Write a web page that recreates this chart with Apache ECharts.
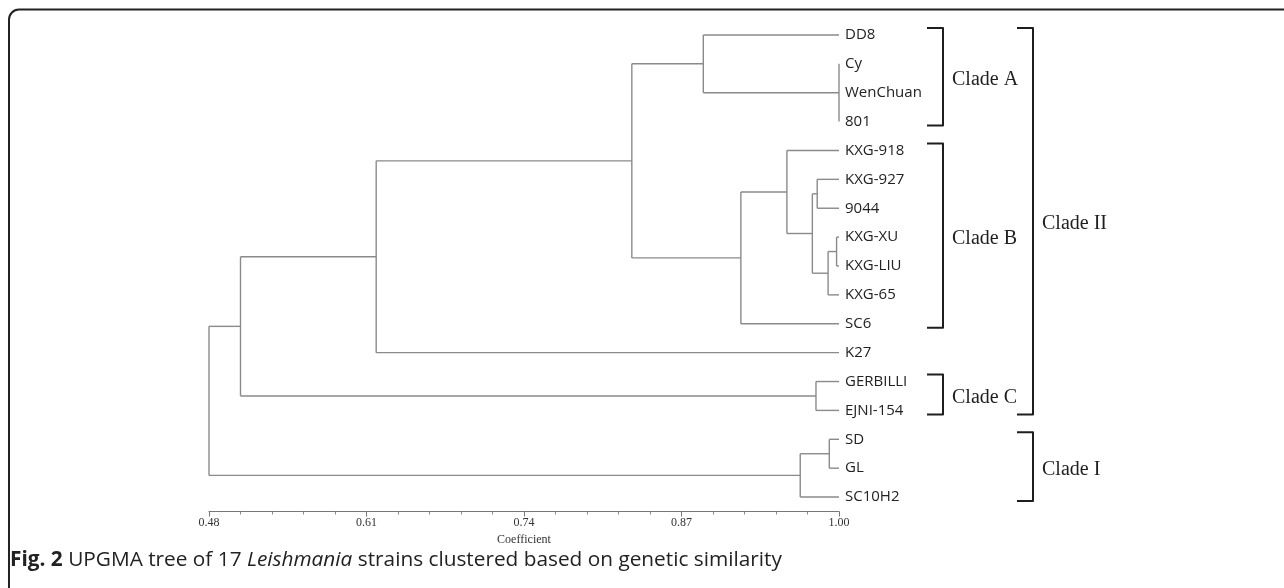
<!DOCTYPE html>
<html>
<head>
<meta charset="utf-8">
<script src="https://cdn.jsdelivr.net/npm/echarts@6/dist/echarts.min.js"></script>
<style>
  html, body { margin: 0; background: #fff; }
  #chart { width: 1284px; height: 588px; }
</style>
</head>
<body>
<div id="chart"></div>
<script>
// leaves, top to bottom
const leaves = ['DD8', 'Cy', 'WenChuan', '801', 'KXG-918', 'KXG-927', '9044', 'KXG-XU',
  'KXG-LIU', 'KXG-65', 'SC6', 'K27', 'GERBILLI', 'EJNI-154', 'SD', 'GL', 'SC10H2'];

// UPGMA merges: child ids are leaf indices (0..16) or 17 + merge index
const mergeChildren = [
  [1, 2, 3],   // 17 Cy / WenChuan / 801
  [0, 17],     // 18 clade A
  [7, 8],      // 19 XU / LIU
  [19, 9],     // 20 + KXG-65
  [5, 6],      // 21 927 / 9044
  [21, 20],    // 22
  [4, 22],     // 23 + KXG-918
  [23, 10],    // 24 clade B (+SC6)
  [18, 24],    // 25 A + B
  [25, 11],    // 26 + K27
  [12, 13],    // 27 clade C
  [26, 27],    // 28 clade II
  [14, 15],    // 29 SD / GL
  [29, 16],    // 30 clade I
  [28, 30]     // 31 root
];
const mergeHeights = [1.00, 0.888, 0.998, 0.991, 0.982, 0.978, 0.957, 0.919,
  0.829, 0.618, 0.981, 0.506, 0.992, 0.968, 0.48];

// axis
const axisMin = 0.48, axisMax = 1.00, axisStep = 0.13;

// clade brackets
const cladeNames = ['Clade A', 'Clade B', 'Clade C', 'Clade II', 'Clade I'];
const cladeFirst = [0, 4, 12, 0, 14];
const cladeLast = [3, 10, 13, 13, 16];
const cladeLevel = [0, 0, 0, 1, 1];

const chart = echarts.init(document.getElementById('chart'));

// pixel position of a node (leaf or merge)
function nodePos(id, api) {
  if (id < leaves.length) return api.coord([axisMax - axisMin, id]);
  const k = id - leaves.length;
  const ch = mergeChildren[k];
  const a = nodePos(ch[0], api), b = nodePos(ch[ch.length - 1], api);
  const x = api.coord([mergeHeights[k] - axisMin, 0])[0];
  return [x, (a[1] + b[1]) / 2];
}

const lineStyle = { stroke: '#8a8a8a', lineWidth: 1.4 };

function renderMerge(params, api) {
  const k = params.dataIndex;
  const p = nodePos(leaves.length + k, api);
  const kids = mergeChildren[k].map(c => nodePos(c, api));
  const ys = kids.map(c => c[1]);
  const children = kids.map(c => ({
    type: 'line',
    shape: { x1: c[0], y1: c[1], x2: p[0], y2: c[1] },
    style: lineStyle
  }));
  children.push({
    type: 'line',
    shape: { x1: p[0], y1: Math.min(...ys), x2: p[0], y2: Math.max(...ys) },
    style: lineStyle
  });
  return { type: 'group', children };
}

function renderClade(params, api) {
  const i = params.dataIndex;
  const right = api.coord([axisMax - axisMin, 0])[0];
  const x = right + (cladeLevel[i] ? 194 : 104);
  const top = api.coord([0, cladeFirst[i]])[1] - 7;
  const bot = api.coord([0, cladeLast[i]])[1] + 4;
  return {
    type: 'group',
    children: [
      {
        type: 'polyline',
        shape: { points: [[x - 16, top], [x, top], [x, bot], [x - 16, bot]] },
        style: { stroke: '#1e1e1e', lineWidth: 2, fill: null, lineJoin: 'round' }
      },
      {
        type: 'text',
        style: {
          text: cladeNames[i], x: x + 9, y: (top + bot) / 2 + 3,
          fontFamily: 'Liberation Serif', fontSize: 20, fill: '#1e1e1e',
          verticalAlign: 'middle', align: 'left'
        }
      }
    ]
  };
}

chart.setOption({
  animation: false,
  backgroundColor: '#fff',
  grid: { left: 209, right: 445, top: 20.5, bottom: 76.5 },
  xAxis: {
    type: 'value',
    min: 0,
    max: axisMax - axisMin,
    interval: axisStep,
    name: 'Coefficient',
    nameLocation: 'middle',
    nameGap: 22,
    nameTextStyle: { fontFamily: 'Liberation Serif', fontSize: 12, color: '#333' },
    axisLine: { show: true, lineStyle: { color: '#777', width: 1 } },
    axisTick: { show: true, length: 5, lineStyle: { color: '#777' } },
    minorTick: { show: true, splitNumber: 5, length: 3, lineStyle: { color: '#888' } },
    splitLine: { show: false },
    axisLabel: {
      margin: 5,
      fontFamily: 'Liberation Serif', fontSize: 12, color: '#333',
      formatter: v => (v + axisMin).toFixed(2)
    }
  },
  yAxis: {
    type: 'category',
    data: leaves,
    inverse: true,
    position: 'right',
    axisLine: { show: false },
    axisTick: { show: false },
    splitLine: { show: false },
    axisLabel: { margin: 6, fontFamily: 'Open Sans', fontSize: 15, color: '#222' }
  },
  series: [
    {
      type: 'custom',
      renderItem: renderMerge,
      data: mergeHeights.map((h, k) => [h - axisMin, k]),
      clip: false,
      silent: true
    },
    {
      type: 'custom',
      renderItem: renderClade,
      data: cladeNames.map((n, i) => [0, cladeFirst[i]]),
      clip: false,
      silent: true
    }
  ],
  graphic: [
    {
      type: 'rect',
      shape: { x: 9, y: 9.5, width: 1320, height: 640, r: 10 },
      style: { fill: null, stroke: '#222', lineWidth: 2 }
    },
    {
      type: 'text',
      left: 10,
      top: 550,
      style: {
        text: '{b|Fig. 2} UPGMA tree of 17 {i|Leishmania} strains clustered based on genetic similarity',
        fontFamily: 'Open Sans', fontSize: 20.8, fill: '#222',
        rich: {
          b: { fontFamily: 'Open Sans', fontSize: 20.8, fontWeight: 'bold', fill: '#222' },
          i: { fontFamily: 'Open Sans', fontSize: 20.8, fontStyle: 'italic', fill: '#222' }
        }
      }
    }
  ]
});
</script>
</body>
</html>
